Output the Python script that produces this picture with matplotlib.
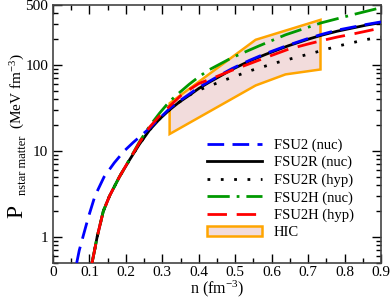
import matplotlib
matplotlib.use("Agg")
import matplotlib.pyplot as plt
from matplotlib.ticker import MultipleLocator, FixedLocator, LogLocator, NullFormatter

plt.rcParams['font.family'] = ['Liberation Serif', 'DejaVu Serif']
plt.rcParams['mathtext.fontset'] = 'custom'
plt.rcParams['mathtext.rm'] = 'Liberation Serif'
plt.rcParams['mathtext.it'] = 'Liberation Serif:italic'

# values
n_fsu2 = [0.065, 0.072, 0.082, 0.097, 0.115, 0.14, 0.168, 0.195, 0.22, 0.245, 0.265, 0.292, 0.319,
          0.346, 0.374, 0.40, 0.455, 0.491, 0.54, 0.583, 0.646, 0.70, 0.736, 0.78, 0.829, 0.86, 0.9]
p_fsu2 = [0.5, 0.7, 1.0, 1.7, 3.0, 5.0, 7.3, 10.0, 12.6, 15.6, 18.4, 24.0, 31.0,
          38.0, 46.0, 55.0, 75.0, 91.0, 114.0, 136.0, 171.0, 204.0, 227.0, 255.0, 280.0, 297.0, 318.0]

n_fsu2r = [0.107, 0.114, 0.121, 0.138, 0.155, 0.182, 0.21, 0.237, 0.265, 0.292, 0.319, 0.346, 0.374,
           0.40, 0.428, 0.455, 0.491, 0.54, 0.583, 0.646, 0.70, 0.736, 0.78, 0.829, 0.86, 0.9]
p_fsu2r = [0.5, 0.7, 1.0, 2.0, 3.0, 5.0, 7.9, 12.0, 17.6, 23.5, 30.0, 37.0, 44.6,
           53.5, 63.0, 73.0, 89.0, 112.0, 133.0, 168.0, 200.0, 222.0, 248.0, 274.0, 292.0, 312.0]

n_fsu2r_hyp = [0.107, 0.114, 0.121, 0.138, 0.155, 0.182, 0.21, 0.237, 0.265, 0.292, 0.319, 0.346,
               0.379, 0.409, 0.442, 0.483, 0.545, 0.614, 0.651, 0.715, 0.783, 0.856, 0.9]
p_fsu2r_hyp = [0.5, 0.7, 1.0, 2.0, 3.0, 5.0, 7.9, 12.0, 17.6, 23.5, 30.0, 37.0,
               46.0, 53.0, 60.0, 70.0, 87.0, 107.0, 118.0, 139.0, 167.0, 197.0, 212.0]

n_fsu2h = [0.107, 0.114, 0.121, 0.138, 0.155, 0.182, 0.21, 0.237, 0.265, 0.292, 0.319, 0.346, 0.374,
           0.40, 0.428, 0.491, 0.565, 0.638, 0.736, 0.829, 0.886, 0.9]
p_fsu2h = [0.5, 0.7, 1.0, 2.0, 3.0, 5.0, 8.0, 12.8, 19.5, 27.5, 37.5, 47.5, 60.0,
           73.0, 88.0, 122.0, 167.0, 225.0, 310.0, 392.0, 450.0, 465.0]

n_fsu2h_hyp = [0.107, 0.114, 0.121, 0.138, 0.155, 0.182, 0.21, 0.237, 0.265, 0.292, 0.319, 0.355,
               0.40, 0.447, 0.491, 0.54, 0.583, 0.646, 0.70, 0.736, 0.78, 0.829, 0.9]
p_fsu2h_hyp = [0.5, 0.7, 1.0, 2.0, 3.0, 5.0, 8.0, 12.5, 19.0, 25.5, 33.0, 46.0,
               61.0, 73.0, 87.0, 104.0, 122.0, 153.0, 176.0, 192.0, 212.0, 233.0, 270.0]

hic_n = [0.32, 0.556, 0.734, 0.734, 0.638, 0.556, 0.32]
hic_p = [36.0, 197.0, 336.0, 89.0, 78.0, 58.0, 15.8]

W, H = 390, 300
fig = plt.figure(figsize=(3.9, 3.0), dpi=100)
ax = fig.add_axes([53 / W, 1 - 263 / H, 328 / W, 258 / H])

ax.fill(hic_n, hic_p, facecolor='#f2dcdc', edgecolor='#ffa500', lw=1.8, label='HIC', zorder=1)

ax.plot(n_fsu2, p_fsu2, color='#0000ff', lw=2, ls=(0, (6, 3)), label='FSU2 (nuc)', zorder=3)
ax.plot(n_fsu2r, p_fsu2r, color='black', lw=2, ls='-', label='FSU2R (nuc)', zorder=2)
ax.plot(n_fsu2r_hyp, p_fsu2r_hyp, color='black', lw=2, ls=(0, (1, 3.8)), label='FSU2R (hyp)', zorder=2)
ax.plot(n_fsu2h, p_fsu2h, color='#009900', lw=2, ls=(0, (8, 2.5, 1, 2.5)), label='FSU2H (nuc)', zorder=2)
ax.plot(n_fsu2h_hyp, p_fsu2h_hyp, color='#ff0000', lw=2, ls=(0, (7, 3.5)), label='FSU2H (hyp)', zorder=3)

ax.set_yscale('log')
ax.set_xlim(0, 0.9)
ax.set_ylim(0.5, 500)

ax.set_xticks([0, 0.1, 0.2, 0.3, 0.4, 0.5, 0.6, 0.7, 0.8, 0.9])
ax.set_xticklabels(['0', '0.1', '0.2', '0.3', '0.4', '0.5', '0.6', '0.7', '0.8', '0.9'])
ax.xaxis.set_minor_locator(MultipleLocator(0.05))

ax.yaxis.set_major_locator(FixedLocator([1, 10, 100, 500]))
ax.set_yticklabels(['1', '10', '100', '500'])
ax.yaxis.set_minor_locator(LogLocator(base=10, subs=range(2, 10)))
ax.yaxis.set_minor_formatter(NullFormatter())

ax.tick_params(which='both', direction='in', top=True, right=True, labelsize=11)
ax.tick_params(axis='x', pad=2)
ax.tick_params(which='major', length=6.5, width=1)
ax.tick_params(which='minor', length=3.6, width=1)
for s in ax.spines.values():
    s.set_linewidth(1.2)
    s.set_color('#444444')

ax.set_xlabel('n (fm$^{-3}$)', fontsize=11.5, labelpad=0)

# y label: big P, small subscript, units in normal size
ylab = dict(rotation=90, rotation_mode='anchor', ha='left', va='baseline')
fig.text(22 / W, 1 - 218 / H, 'P', fontsize=17, **ylab)
fig.text(26 / W, 1 - 195 / H, 'nstar matter', fontsize=9, **ylab)
fig.text(22 / W, 1 - 129 / H, '(MeV fm$^{-3}$)', fontsize=11, **ylab)

handles, labels = ax.get_legend_handles_labels()
order = [1, 2, 3, 4, 5, 0]
ax.legend([handles[i] for i in order], [labels[i] for i in order], loc='lower right',
          frameon=False, fontsize=10.5, handlelength=3.8, borderaxespad=0.6,
          labelspacing=0.28, bbox_to_anchor=(0.962, 0.035))

fig.savefig('out.png', dpi=100)
